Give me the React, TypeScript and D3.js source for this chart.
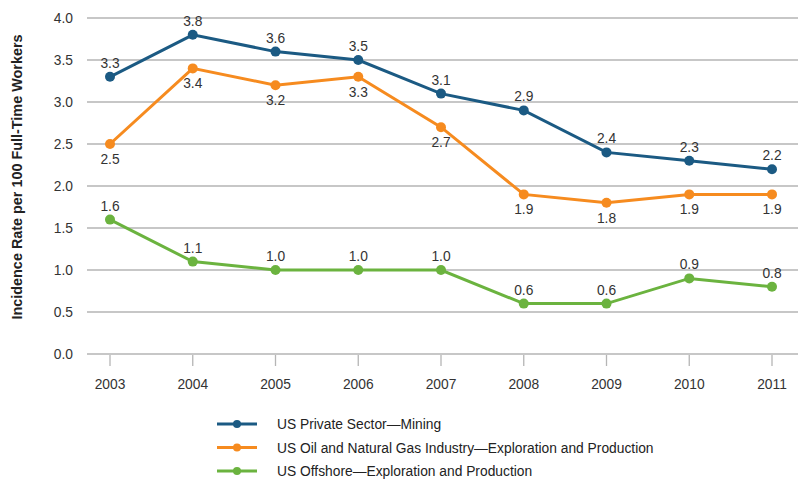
import React from "react";
import * as d3 from "d3";

const years = [2003, 2004, 2005, 2006, 2007, 2008, 2009, 2010, 2011];
const mining = [3.3, 3.8, 3.6, 3.5, 3.1, 2.9, 2.4, 2.3, 2.2];
const oilGas = [2.5, 3.4, 3.2, 3.3, 2.7, 1.9, 1.8, 1.9, 1.9];
const offshore = [1.6, 1.1, 1.0, 1.0, 1.0, 0.6, 0.6, 0.9, 0.8];
const yTicks = [0, 0.5, 1, 1.5, 2, 2.5, 3, 3.5, 4];
const seriesNames = [
  "US Private Sector\u2014Mining",
  "US Oil and Natural Gas Industry\u2014Exploration and Production",
  "US Offshore\u2014Exploration and Production",
];
const colors = ["#1b5a83", "#f68b1f", "#6bb33f"];
const labelPos = ["above", "below", "above"];

const W = 800;
const H = 484;
const FONT = "'Liberation Sans', Arial, Helvetica, sans-serif";
const FS = 13.8;

export default function App() {
  const x = d3.scalePoint<number>().domain(years).range([110, 772]);
  const y = d3.scaleLinear().domain([0, 4]).range([354, 18]);
  const line = d3
    .line<number>()
    .x((_, i) => x(years[i]) as number)
    .y((d) => y(d));
  const all = [mining, oilGas, offshore];

  return (
    <svg
      width={W}
      height={H}
      style={{ position: "absolute", left: 0, top: 0, background: "#fff" }}
      fontFamily={FONT}
    >
      {yTicks.map((t) => (
        <g key={t}>
          <line x1={87} x2={798} y1={y(t)} y2={y(t)} stroke="#b5b5b5" strokeWidth={1.3} />
          <text x={73} y={y(t) + 5} textAnchor="end" fontSize={FS} fill="#333">
            {t.toFixed(1)}
          </text>
        </g>
      ))}
      {years.map((yr) => (
        <g key={yr}>
          <line x1={x(yr)} x2={x(yr)} y1={355} y2={366} stroke="#b5b5b5" strokeWidth={1.3} />
          <text x={x(yr)} y={389} textAnchor="middle" fontSize={FS} fill="#333">
            {yr}
          </text>
        </g>
      ))}
      <text
        transform={`translate(22,177) rotate(-90)`}
        textAnchor="middle"
        fontSize={14.4}
        fontWeight="bold"
        fill="#222"
      >
        Incidence Rate per 100 Full-Time Workers
      </text>
      {all.map((s, si) => (
        <g key={si}>
          <path d={line(s) || ""} fill="none" stroke={colors[si]} strokeWidth={3} />
          {s.map((v, i) => (
            <circle key={i} cx={x(years[i])} cy={y(v)} r={5} fill={colors[si]} />
          ))}
          {s.map((v, i) => (
            <text
              key={"l" + i}
              x={x(years[i])}
              y={labelPos[si] === "above" ? y(v) - 9 : y(v) + 20}
              textAnchor="middle"
              fontSize={FS}
              fill="#333"
            >
              {v.toFixed(1)}
            </text>
          ))}
        </g>
      ))}
      {seriesNames.map((n, i) => {
        const ly = 424 + i * 23.5;
        return (
          <g key={n}>
            <line x1={217} x2={257} y1={ly} y2={ly} stroke={colors[i]} strokeWidth={3} />
            <circle cx={237} cy={ly} r={4} fill={colors[i]} />
            <text x={277} y={ly + 5} fontSize={FS} fill="#222">
              {n}
            </text>
          </g>
        );
      })}
    </svg>
  );
}
